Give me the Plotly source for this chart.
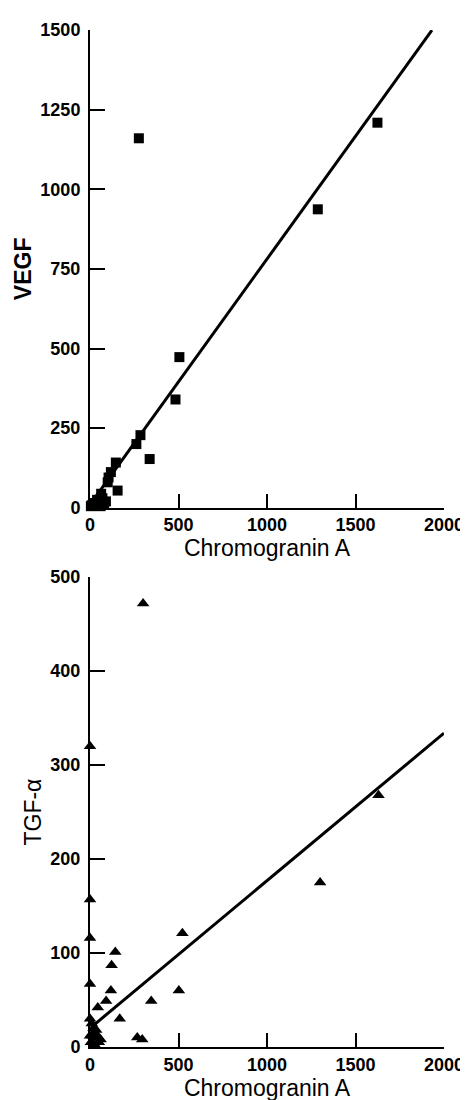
import plotly.graph_objects as go

# --- Data ---
vegf_cga = [1624, 1287, 505, 483, 276, 337, 285, 262, 146, 118, 105, 100, 156, 63, 70, 50, 80, 40, 20, 10, 5, 30, 60, 90]
vegf_val = [1209, 937, 473, 340, 1160, 153, 228, 200, 142, 112, 95, 80, 54, 44, 30, 20, 15, 25, 15, 8, 5, 10, 5, 20]

tgf_cga = [0, 0, 0, 0, 300, 1300, 1630, 143, 122, 522, 118, 91, 44, 346, 502, 168, 267, 295, 10, 20, 30, 40, 50, 5, 15, 25, 35, 60, 0, 0]
tgf_val = [320, 157, 116, 67, 472, 175, 268, 101, 87, 121, 60, 49, 42, 49, 60, 30, 10, 8, 25, 20, 15, 10, 5, 5, 12, 3, 18, 8, 30, 12]

vegf_fit = {"slope": 0.771, "intercept": 10, "x_range": [0, 1932]}
tgf_fit = {"slope": 0.157, "intercept": 20, "x_range": [8, 2000]}

x_ticks = [0, 500, 1000, 1500, 2000]
vegf_ticks = [0, 250, 500, 750, 1000, 1250, 1500]
tgf_ticks = [0, 100, 200, 300, 400, 500]

W, H = 468, 1100
L, R, T, B = 82, 27, 17, 57
plot_h = H - T - B

def frac(px):
    return (H - B - px) / plot_h

fig = go.Figure()

fig.add_trace(go.Scatter(x=vegf_cga, y=vegf_val, mode="markers",
                         marker=dict(symbol="square", size=10, color="black"),
                         xaxis="x", yaxis="y", cliponaxis=False, showlegend=False))
fx = vegf_fit["x_range"]
fig.add_trace(go.Scatter(x=fx, y=[vegf_fit["intercept"] + vegf_fit["slope"] * v for v in fx],
                         mode="lines", line=dict(color="black", width=3),
                         xaxis="x", yaxis="y", showlegend=False))

fig.add_trace(go.Scatter(x=tgf_cga, y=tgf_val, mode="markers",
                         marker=dict(symbol="triangle-up", size=11, color="black"),
                         xaxis="x2", yaxis="y2", cliponaxis=False, showlegend=False))
fx2 = tgf_fit["x_range"]
fig.add_trace(go.Scatter(x=fx2, y=[tgf_fit["intercept"] + tgf_fit["slope"] * v for v in fx2],
                         mode="lines", line=dict(color="black", width=3),
                         xaxis="x2", yaxis="y2", showlegend=False))

tickfont = dict(family="Liberation Sans", size=18, color="black", weight="bold")
titlefont = dict(family="Liberation Sans", size=23, color="black")

common_x = dict(range=[0, 2000], tickvals=x_ticks, ticks="inside", ticklen=14, tickwidth=2,
                tickcolor="black", showline=True, linecolor="black", linewidth=2,
                showgrid=False, zeroline=False, tickfont=tickfont)
common_y = dict(ticks="inside", ticklen=15, tickwidth=2, tickcolor="black",
                showline=True, linecolor="black", linewidth=2, ticklabelstandoff=4,
                showgrid=False, zeroline=False, tickfont=tickfont)

fig.update_layout(
    width=W, height=H,
    margin=dict(l=L, r=R, t=T, b=B),
    paper_bgcolor="white", plot_bgcolor="white",
    xaxis=dict(anchor="y", domain=[0, 1],
               title=dict(text="Chromogranin A", font=titlefont, standoff=5), **common_x),
    yaxis=dict(anchor="x", domain=[frac(499), 1], range=[0, 1500], tickvals=vegf_ticks,
               title=dict(text="<b>VEGF</b>", font=titlefont, standoff=2), **common_y),
    xaxis2=dict(anchor="y2", domain=[0, 1],
                title=dict(text="Chromogranin A", font=titlefont, standoff=5), **common_x),
    yaxis2=dict(anchor="x2", domain=[0, frac(569)], range=[0, 500], tickvals=tgf_ticks,
                title=dict(text="TGF-α", font=titlefont, standoff=2), **common_y),
)

fig.write_html("out.html")
